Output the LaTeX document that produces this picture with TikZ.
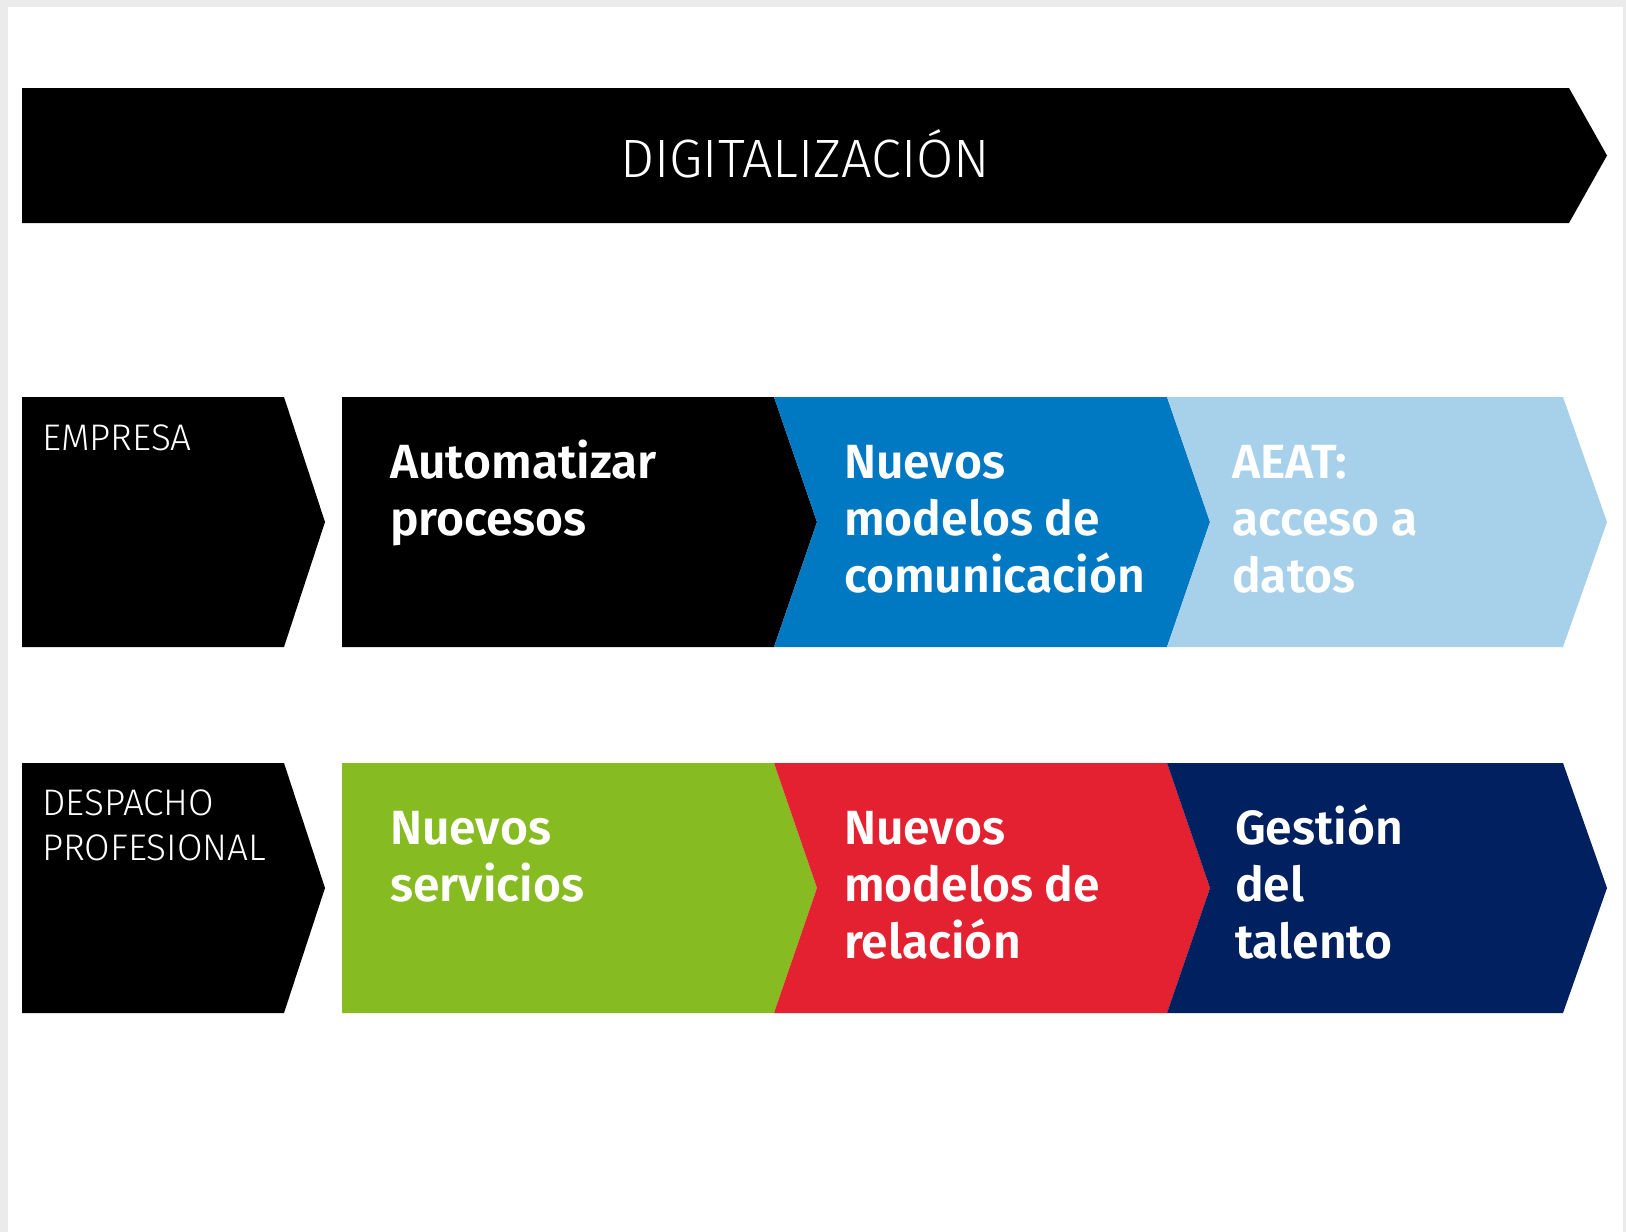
\documentclass[tikz,border=0pt]{standalone}
\usepackage{fontspec}
\setmainfont{Fira Sans}
\newfontfamily\firalight{Fira Sans Light}
\newfontfamily\firasemi{Fira Sans SemiBold}
\usepackage{xcolor}
\definecolor{framegray}{HTML}{EBEBEB}
\definecolor{midblue}{HTML}{0079C2}
\definecolor{skyblue}{HTML}{A7D1EA}
\definecolor{limegreen}{HTML}{86BC22}
\definecolor{signalred}{HTML}{E42131}
\definecolor{navy}{HTML}{00205F}
\usepackage{tikz}
\usetikzlibrary{positioning}
\tikzset{
  rowlabel/.style={anchor=base west, inner sep=0pt, text=white, align=left, font=\firalight\fontsize{37}{45}\selectfont},
  steptext/.style={anchor=base west, inner sep=0pt, text=white, align=left, font=\firasemi\fontsize{48}{57}\selectfont},
}
\begin{document}
\begin{tikzpicture}[x=1pt, y=-1pt]
        % Frame
        \fill[framegray] (0,0) rectangle (1626,1232);
        \fill[white] (8,7) rectangle (1623,1232);
        \useasboundingbox (0,0) rectangle (1626,1232);
        % Banner
        \fill[black] (22,88) -- (1569,88) -- (1607,155.5) -- (1569,223) -- (22,223) -- cycle;
        \node[font=\firalight\fontsize{54}{66}\selectfont, text=white, anchor=base, inner sep=0pt] (banner) at (805,177) {DIGITALIZACIÓN};
        % Chevron rows (top edge / three step colours)
        \foreach \t/\ca/\cb/\cc in {397/black/midblue/skyblue, 763/limegreen/signalred/navy} {
          \fill[black] (22,\t) -- ++(262,0) -- ++(41,125) -- ++(-41,125) -- ++(-262,0) -- cycle;
          \fill[\ca] (342,\t) -- ++(432,0) -- ++(43,125) -- ++(-43,125) -- ++(-432,0) -- cycle;
          \fill[\cb] (774,\t) -- ++(393,0) -- ++(43,125) -- ++(-43,125) -- ++(-393,0) -- ++(43,-125) -- cycle;
          \fill[\cc] (1167,\t) -- ++(396,0) -- ++(44,125) -- ++(-44,125) -- ++(-396,0) -- ++(43,-125) -- cycle;
        }
        % Row labels (placed at the baseline of their last line)
        \node[rowlabel] (empresa) at (42,450) {EMPRESA};
        \node[rowlabel] (despacho) at (42,860) {DESPACHO\\PROFESIONAL};
        % Steps
        \node[steptext] (automatizar) at (390,535) {Automatizar\\procesos};
        \node[steptext] (comunicacion) at (844,592) {Nuevos\\modelos de\\comunicación};
        \node[steptext] (aeat) at (1232,592) {AEAT:\\acceso a\\datos};
        \node[steptext] (servicios) at (390,901) {Nuevos\\servicios};
        \node[steptext] (relacion) at (844,958) {Nuevos\\modelos de\\relación};
        \node[steptext] (talento) at (1235,958) {Gestión\\del\\talento};
      \end{tikzpicture}
\end{document}
